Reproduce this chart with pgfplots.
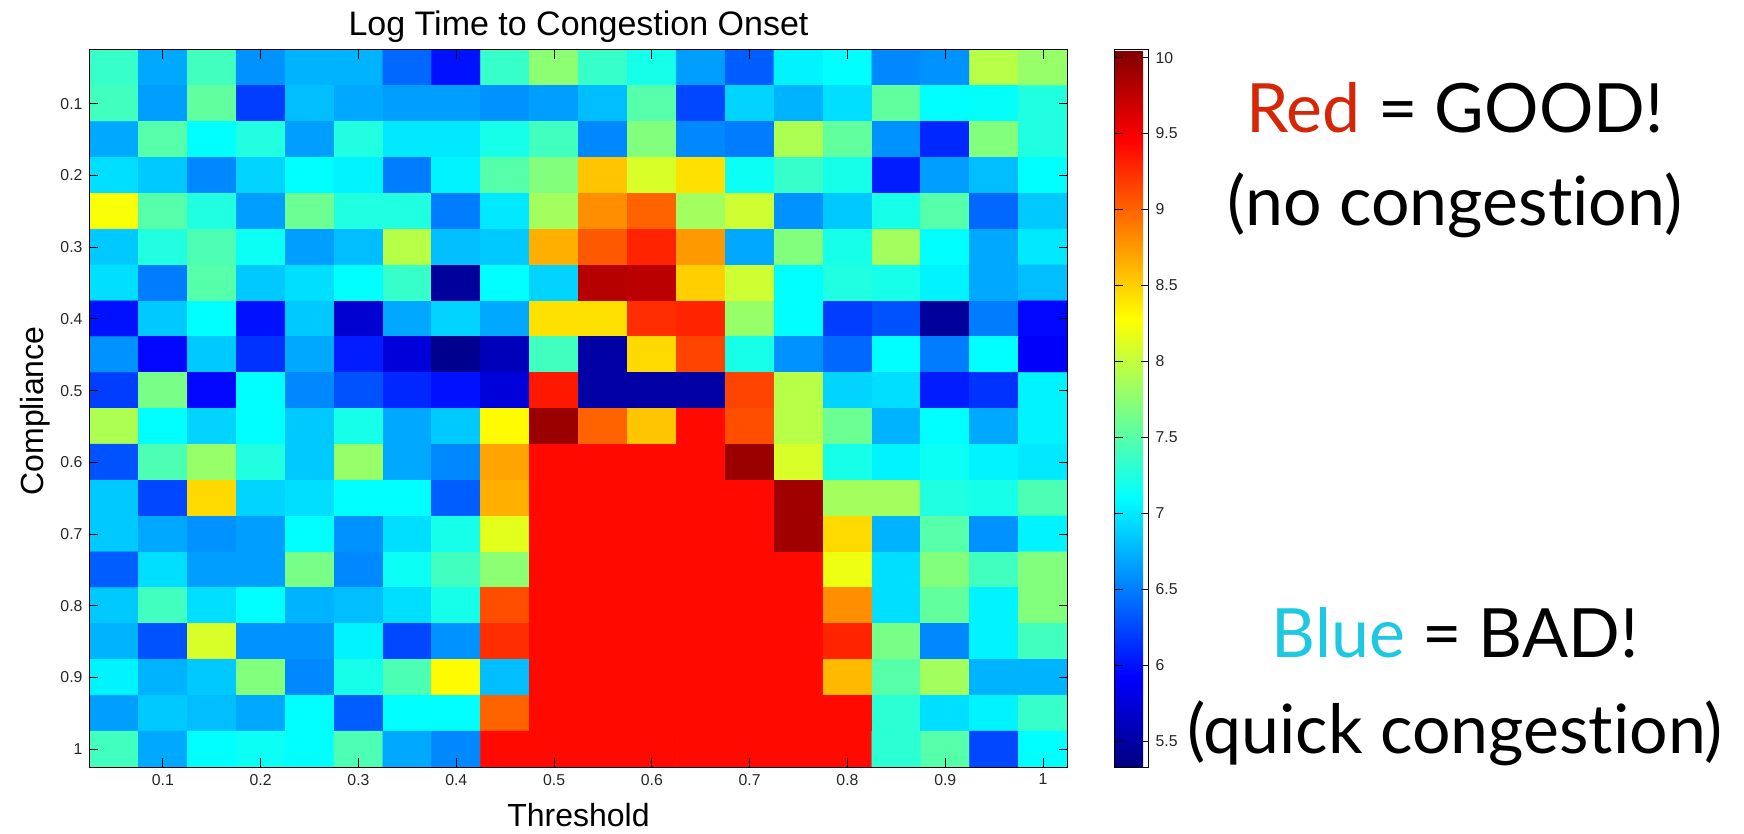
\documentclass[border=0pt]{standalone}
\usepackage{fontspec}
\setmainfont{Liberation Sans}
\newfontfamily\slidefont[Ligatures={NoCommon,NoRare}]{Lato}
\usepackage{pgfplots}
\pgfplotsset{compat=1.18}
\pgfplotsset{/pgf/number format/assume math mode=true}
\definecolor{goodred}{RGB}{214,38,8}
\definecolor{badblue}{RGB}{30,200,225}
\begin{document}
\begin{tikzpicture}
\useasboundingbox (0,0) rectangle (872pt,417pt);
\begin{axis}[
    at={(44.75pt,33.5pt)}, anchor=south west,
    scale only axis, width=489pt, height=358.5pt,
    xmin=0.025, xmax=1.025, ymin=0.025, ymax=1.025,
    y dir=reverse, enlargelimits=false, axis on top,
    colormap/jet, point meta min=5.33, point meta max=10.05,
    xtick={0.1,0.2,0.3,0.4,0.5,0.6,0.7,0.8,0.9,1},
    ytick={0.1,0.2,0.3,0.4,0.5,0.6,0.7,0.8,0.9,1},
    tick align=inside, major tick length=4.5pt,
    every tick/.style={black, line width=0.4pt},
    axis line style={line width=0.5pt},
    tick label style={font=\fontsize{7.9}{9}\selectfont, text=black!85},
    colorbar,
    colorbar style={
        at={(parent axis.north east)}, anchor=north west, xshift=15pt,
        scale only axis, width=17pt, height=358.5pt,
        ytick={5.5,6,6.5,7,7.5,8,8.5,9,9.5,10},
        tick align=inside, major tick length=4pt,
        every tick/.style={black, line width=0.4pt},
        axis line style={line width=0.5pt},
        yticklabel style={font=\fontsize{7.9}{9}\selectfont, text=black!85},
    },
]
\addplot[matrix plot*, mesh/cols=20, point meta=explicit] coordinates {
(0.05,0.05)[7.35] (0.1,0.05)[6.7] (0.15,0.05)[7.4] (0.2,0.05)[6.6] (0.25,0.05)[6.75] (0.3,0.05)[6.75] (0.35,0.05)[6.4] (0.4,0.05)[6.0] (0.45,0.05)[7.35] (0.5,0.05)[7.75]
(0.55,0.05)[7.35] (0.6,0.05)[7.2] (0.65,0.05)[6.65] (0.7,0.05)[6.35] (0.75,0.05)[7.05] (0.8,0.05)[7.1] (0.85,0.05)[6.55] (0.9,0.05)[6.6] (0.95,0.05)[7.95] (1,0.05)[7.8]

(0.05,0.1)[7.4] (0.1,0.1)[6.65] (0.15,0.1)[7.55] (0.2,0.1)[6.2] (0.25,0.1)[6.8] (0.3,0.1)[6.7] (0.35,0.1)[6.65] (0.4,0.1)[6.65] (0.45,0.1)[6.6] (0.5,0.1)[6.65]
(0.55,0.1)[6.8] (0.6,0.1)[7.5] (0.65,0.1)[6.25] (0.7,0.1)[6.9] (0.75,0.1)[6.75] (0.8,0.1)[6.95] (0.85,0.1)[7.55] (0.9,0.1)[7.1] (0.95,0.1)[7.12] (1,0.1)[7.25]

(0.05,0.15)[6.7] (0.1,0.15)[7.5] (0.15,0.15)[7.1] (0.2,0.15)[7.25] (0.25,0.15)[6.65] (0.3,0.15)[7.25] (0.35,0.15)[7.0] (0.4,0.15)[7.0] (0.45,0.15)[7.2] (0.5,0.15)[7.4]
(0.55,0.15)[6.55] (0.6,0.15)[7.7] (0.65,0.15)[6.55] (0.7,0.15)[6.5] (0.75,0.15)[7.9] (0.8,0.15)[7.55] (0.85,0.15)[6.6] (0.9,0.15)[6.1] (0.95,0.15)[7.7] (1,0.15)[7.25]

(0.05,0.2)[6.95] (0.1,0.2)[6.85] (0.15,0.2)[6.55] (0.2,0.2)[6.9] (0.25,0.2)[7.1] (0.3,0.2)[7.05] (0.35,0.2)[6.5] (0.4,0.2)[7.05] (0.45,0.2)[7.5] (0.5,0.2)[7.7]
(0.55,0.2)[8.55] (0.6,0.2)[8.1] (0.65,0.2)[8.42] (0.7,0.2)[7.15] (0.75,0.2)[7.35] (0.8,0.2)[7.2] (0.85,0.2)[6.05] (0.9,0.2)[6.65] (0.95,0.2)[6.8] (1,0.2)[7.1]

(0.05,0.25)[8.25] (0.1,0.25)[7.5] (0.15,0.25)[7.25] (0.2,0.25)[6.65] (0.25,0.25)[7.6] (0.3,0.25)[7.25] (0.35,0.25)[7.25] (0.4,0.25)[6.5] (0.45,0.25)[7.0] (0.5,0.25)[7.85]
(0.55,0.25)[8.8] (0.6,0.25)[9.0] (0.65,0.25)[7.85] (0.7,0.25)[8.05] (0.75,0.25)[6.6] (0.8,0.25)[6.85] (0.85,0.25)[7.2] (0.9,0.25)[7.5] (0.95,0.25)[6.4] (1,0.25)[6.85]

(0.05,0.3)[6.85] (0.1,0.3)[7.25] (0.15,0.3)[7.45] (0.2,0.3)[7.15] (0.25,0.3)[6.65] (0.3,0.3)[6.8] (0.35,0.3)[7.95] (0.4,0.3)[6.8] (0.45,0.3)[6.85] (0.5,0.3)[8.65]
(0.55,0.3)[9.05] (0.6,0.3)[9.3] (0.65,0.3)[8.75] (0.7,0.3)[6.7] (0.75,0.3)[7.7] (0.8,0.3)[7.2] (0.85,0.3)[7.85] (0.9,0.3)[7.1] (0.95,0.3)[6.7] (1,0.3)[7.0]

(0.05,0.35)[6.95] (0.1,0.35)[6.5] (0.15,0.35)[7.5] (0.2,0.35)[6.85] (0.25,0.35)[6.95] (0.3,0.35)[7.1] (0.35,0.35)[7.35] (0.4,0.35)[5.45] (0.45,0.35)[7.1] (0.5,0.35)[6.9]
(0.55,0.35)[9.8] (0.6,0.35)[9.78] (0.65,0.35)[8.5] (0.7,0.35)[8.05] (0.75,0.35)[7.1] (0.8,0.35)[7.25] (0.85,0.35)[7.2] (0.9,0.35)[7.05] (0.95,0.35)[6.7] (1,0.35)[6.8]

(0.05,0.4)[6.0] (0.1,0.4)[6.85] (0.15,0.4)[7.1] (0.2,0.4)[6.0] (0.25,0.4)[6.85] (0.3,0.4)[5.7] (0.35,0.4)[6.7] (0.4,0.4)[6.9] (0.45,0.4)[6.7] (0.5,0.4)[8.42]
(0.55,0.4)[8.42] (0.6,0.4)[9.25] (0.65,0.4)[9.3] (0.7,0.4)[7.8] (0.75,0.4)[7.1] (0.8,0.4)[6.2] (0.85,0.4)[6.3] (0.9,0.4)[5.45] (0.95,0.4)[6.5] (1,0.4)[5.95]

(0.05,0.45)[6.6] (0.1,0.45)[5.95] (0.15,0.45)[6.85] (0.2,0.45)[6.15] (0.25,0.45)[6.7] (0.3,0.45)[6.05] (0.35,0.45)[5.75] (0.4,0.45)[5.4] (0.45,0.45)[5.6] (0.5,0.45)[7.4]
(0.55,0.45)[5.5] (0.6,0.45)[8.45] (0.65,0.45)[9.15] (0.7,0.45)[7.2] (0.75,0.45)[6.6] (0.8,0.45)[6.4] (0.85,0.45)[7.1] (0.9,0.45)[6.5] (0.95,0.45)[7.1] (1,0.45)[5.9]

(0.05,0.5)[6.2] (0.1,0.5)[7.65] (0.15,0.5)[5.95] (0.2,0.5)[7.1] (0.25,0.5)[6.55] (0.3,0.5)[6.3] (0.35,0.5)[6.1] (0.4,0.5)[6.0] (0.45,0.5)[5.75] (0.5,0.5)[9.35]
(0.55,0.5)[5.5] (0.6,0.5)[5.5] (0.65,0.5)[5.5] (0.7,0.5)[9.15] (0.75,0.5)[7.95] (0.8,0.5)[6.9] (0.85,0.5)[6.95] (0.9,0.5)[6.05] (0.95,0.5)[6.15] (1,0.5)[7.05]

(0.05,0.55)[7.9] (0.1,0.55)[7.1] (0.15,0.55)[6.9] (0.2,0.55)[7.1] (0.25,0.55)[6.85] (0.3,0.55)[7.2] (0.35,0.55)[6.7] (0.4,0.55)[6.85] (0.45,0.55)[8.3] (0.5,0.55)[9.93]
(0.55,0.55)[9.0] (0.6,0.55)[8.55] (0.65,0.55)[9.42] (0.7,0.55)[9.1] (0.75,0.55)[7.95] (0.8,0.55)[7.6] (0.85,0.55)[6.75] (0.9,0.55)[7.1] (0.95,0.55)[6.7] (1,0.55)[7.05]

(0.05,0.6)[6.3] (0.1,0.6)[7.45] (0.15,0.6)[7.8] (0.2,0.6)[7.25] (0.25,0.6)[6.85] (0.3,0.6)[7.8] (0.35,0.6)[6.7] (0.4,0.6)[6.55] (0.45,0.6)[8.7] (0.5,0.6)[9.42]
(0.55,0.6)[9.42] (0.6,0.6)[9.42] (0.65,0.6)[9.42] (0.7,0.6)[9.93] (0.75,0.6)[8.1] (0.8,0.6)[7.2] (0.85,0.6)[7.05] (0.9,0.6)[7.15] (0.95,0.6)[7.05] (1,0.6)[7.0]

(0.05,0.65)[6.85] (0.1,0.65)[6.25] (0.15,0.65)[8.45] (0.2,0.65)[6.9] (0.25,0.65)[6.95] (0.3,0.65)[7.1] (0.35,0.65)[7.1] (0.4,0.65)[6.35] (0.45,0.65)[8.65] (0.5,0.65)[9.42]
(0.55,0.65)[9.42] (0.6,0.65)[9.42] (0.65,0.65)[9.42] (0.7,0.65)[9.42] (0.75,0.65)[9.9] (0.8,0.65)[7.85] (0.85,0.65)[7.85] (0.9,0.65)[7.25] (0.95,0.65)[7.2] (1,0.65)[7.45]

(0.05,0.7)[6.85] (0.1,0.7)[6.7] (0.15,0.7)[6.6] (0.2,0.7)[6.65] (0.25,0.7)[7.1] (0.3,0.7)[6.6] (0.35,0.7)[6.95] (0.4,0.7)[7.2] (0.45,0.7)[8.15] (0.5,0.7)[9.42]
(0.55,0.7)[9.42] (0.6,0.7)[9.42] (0.65,0.7)[9.42] (0.7,0.7)[9.42] (0.75,0.7)[9.9] (0.8,0.7)[8.45] (0.85,0.7)[6.75] (0.9,0.7)[7.5] (0.95,0.7)[6.6] (1,0.7)[7.05]

(0.05,0.75)[6.35] (0.1,0.75)[6.95] (0.15,0.75)[6.65] (0.2,0.75)[6.65] (0.25,0.75)[7.65] (0.3,0.75)[6.55] (0.35,0.75)[7.15] (0.4,0.75)[7.4] (0.45,0.75)[7.75] (0.5,0.75)[9.42]
(0.55,0.75)[9.42] (0.6,0.75)[9.42] (0.65,0.75)[9.42] (0.7,0.75)[9.42] (0.75,0.75)[9.42] (0.8,0.75)[8.2] (0.85,0.75)[6.95] (0.9,0.75)[7.7] (0.95,0.75)[7.4] (1,0.75)[7.7]

(0.05,0.8)[6.85] (0.1,0.8)[7.4] (0.15,0.8)[6.95] (0.2,0.8)[7.1] (0.25,0.8)[6.75] (0.3,0.8)[6.8] (0.35,0.8)[6.95] (0.4,0.8)[7.2] (0.45,0.8)[9.1] (0.5,0.8)[9.42]
(0.55,0.8)[9.42] (0.6,0.8)[9.42] (0.65,0.8)[9.42] (0.7,0.8)[9.42] (0.75,0.8)[9.42] (0.8,0.8)[8.8] (0.85,0.8)[6.95] (0.9,0.8)[7.55] (0.95,0.8)[7.05] (1,0.8)[7.7]

(0.05,0.85)[6.75] (0.1,0.85)[6.3] (0.15,0.85)[8.1] (0.2,0.85)[6.6] (0.25,0.85)[6.6] (0.3,0.85)[7.05] (0.35,0.85)[6.25] (0.4,0.85)[6.6] (0.45,0.85)[9.25] (0.5,0.85)[9.42]
(0.55,0.85)[9.42] (0.6,0.85)[9.42] (0.65,0.85)[9.42] (0.7,0.85)[9.42] (0.75,0.85)[9.42] (0.8,0.85)[9.3] (0.85,0.85)[7.65] (0.9,0.85)[6.55] (0.95,0.85)[7.05] (1,0.85)[7.4]

(0.05,0.9)[7.05] (0.1,0.9)[6.75] (0.15,0.9)[6.85] (0.2,0.9)[7.7] (0.25,0.9)[6.55] (0.3,0.9)[7.2] (0.35,0.9)[7.45] (0.4,0.9)[8.3] (0.45,0.9)[6.8] (0.5,0.9)[9.42]
(0.55,0.9)[9.42] (0.6,0.9)[9.42] (0.65,0.9)[9.42] (0.7,0.9)[9.42] (0.75,0.9)[9.42] (0.8,0.9)[8.6] (0.85,0.9)[7.5] (0.9,0.9)[7.85] (0.95,0.9)[6.75] (1,0.9)[6.75]

(0.05,0.95)[6.65] (0.1,0.95)[6.85] (0.15,0.95)[6.8] (0.2,0.95)[6.7] (0.25,0.95)[7.1] (0.3,0.95)[6.35] (0.35,0.95)[7.1] (0.4,0.95)[7.1] (0.45,0.95)[9.0] (0.5,0.95)[9.42]
(0.55,0.95)[9.42] (0.6,0.95)[9.42] (0.65,0.95)[9.42] (0.7,0.95)[9.42] (0.75,0.95)[9.42] (0.8,0.95)[9.42] (0.85,0.95)[7.3] (0.9,0.95)[6.95] (0.95,0.95)[7.05] (1,0.95)[7.35]

(0.05,1)[7.4] (0.1,1)[6.7] (0.15,1)[7.1] (0.2,1)[7.15] (0.25,1)[7.1] (0.3,1)[7.45] (0.35,1)[6.7] (0.4,1)[6.55] (0.45,1)[9.42] (0.5,1)[9.42]
(0.55,1)[9.42] (0.6,1)[9.42] (0.65,1)[9.42] (0.7,1)[9.42] (0.75,1)[9.42] (0.8,1)[9.42] (0.85,1)[7.3] (0.9,1)[7.5] (0.95,1)[6.25] (1,1)[7.1]
};
\end{axis}
% titles and labels
\node[anchor=base, font=\fontsize{17}{20}\selectfont] at (289.25pt,399pt) {Log Time to Congestion Onset};
\node[anchor=base, font=\fontsize{16}{19}\selectfont] at (289.25pt,3.5pt) {Threshold};
\node[anchor=base, rotate=90, font=\fontsize{16}{19}\selectfont] at (21.5pt,211.5pt) {Compliance};
% slide annotations
\node[anchor=base, font=\slidefont\fontsize{34}{40}\selectfont] at (727.5pt,350.7pt) {\textcolor{goodred}{Red} = GOOD!};
\node[anchor=base, font=\slidefont\fontsize{34}{40}\selectfont] at (727.5pt,304.2pt) {(no congestion)};
\node[anchor=base, font=\slidefont\fontsize{34}{40}\selectfont] at (727.5pt,88pt) {\textcolor{badblue}{Blue} = BAD!};
\node[anchor=base, font=\slidefont\fontsize{34}{40}\selectfont] at (727.5pt,40pt) {(quick congestion)};
\end{tikzpicture}
\end{document}
